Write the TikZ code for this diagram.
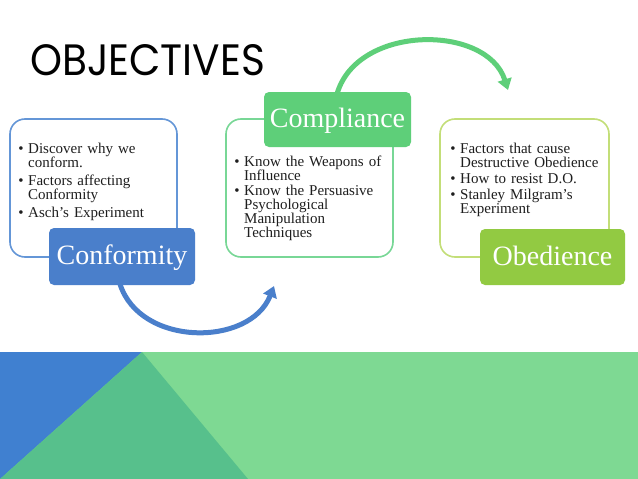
\documentclass[tikz,border=0pt]{standalone}
\usepackage{fontspec}
\setmainfont{Liberation Serif}
\newfontfamily\titlefont{Poppins}
\usetikzlibrary{arrows.meta}
\definecolor{confblue}{RGB}{74,127,203}
\definecolor{confline}{RGB}{100,150,215}
\definecolor{compgreen}{RGB}{94,207,121}
\definecolor{compline}{RGB}{120,215,150}
\definecolor{obgreen}{RGB}{146,202,66}
\definecolor{obline}{RGB}{195,222,120}
\definecolor{bandblue}{RGB}{64,128,208}
\definecolor{banddark}{RGB}{87,192,140}
\definecolor{bandlight}{RGB}{126,217,147}
\definecolor{bodytext}{RGB}{30,30,30}
\newenvironment{blist}[1]{\begin{list}{\textbullet}{\setlength{\leftmargin}{10pt}\setlength{\labelsep}{4.5pt}\setlength{\labelwidth}{5.5pt}\setlength{\topsep}{0pt}\setlength{\partopsep}{0pt}\setlength{\parsep}{0pt}\setlength{\itemsep}{#1}}}{\end{list}}
\begin{document}
\begin{tikzpicture}[x=1pt,y=-1pt,
  obox/.style={draw=#1,line width=1.6pt,rounded corners=15pt,inner sep=0pt},
  lbox/.style={fill=#1,draw=none,rounded corners=5pt,inner sep=0pt,text=white,
    font=\fontsize{28}{30}\selectfont,text height=16pt,text depth=0pt},
  btext/.style={anchor=north west,inner sep=0pt,text width=200pt,text=bodytext,
    font=\fontsize{15}{14}\selectfont,align=left},
  arr/.style={line width=5pt,draw=#1,-{Triangle[width=14pt,length=11pt]}}
]
\useasboundingbox (0,0) rectangle (638,479);
\fill[white] (0,0) rectangle (638,479);
% bottom band
\fill[bandlight] (0,352) rectangle (638,479);
\fill[bandblue] (0,352) -- (142,352) -- (0,479) -- cycle;
\fill[banddark] (142,352) -- (248,479) -- (0,479) -- cycle;
% title
\node[anchor=base west,inner sep=0pt] (title) at (30,75) {\resizebox{235pt}{31pt}{\titlefont OBJECTIVES}};
% outline boxes
\node[obox=confline,minimum width=167pt,minimum height=138pt] (b1) at (93.5,188) {};
\node[obox=compline,minimum width=167pt,minimum height=138pt] (b2) at (309.5,188) {};
\node[obox=obline,minimum width=169pt,minimum height=138pt] (b3) at (524.5,188) {};
% body texts
\node[btext] (t1) at (18,139.5) {\begin{blist}{4pt}
\item Discover why we\\conform.
\item Factors affecting\\Conformity
\item Asch’s Experiment
\end{blist}};
\node[btext] (t2) at (234,152) {\begin{blist}{1.5pt}
\item Know the Weapons of\\Influence
\item Know the Persuasive\\Psychological\\Manipulation\\Techniques
\end{blist}};
\node[btext] (t3) at (450,139.5) {\begin{blist}{2pt}
\item Factors that cause\\Destructive Obedience
\item How to resist D.O.
\item Stanley Milgram’s\\Experiment
\end{blist}};
% arrows
\coordinate (a1s) at (120,284);
\coordinate (a1e) at (274,286);
\coordinate (a2s) at (337,94);
\coordinate (a2e) at (508,90);
\draw[arr=confblue] (a1s) .. controls (140,347) and (250,347) .. (a1e);
\draw[arr=compgreen] (a2s) .. controls (357,24) and (487,24) .. (a2e);
% labels
\node[lbox=confblue,minimum width=146pt,minimum height=57pt] (l1) at (122,256.5) {Conformity};
\node[lbox=compgreen,minimum width=147pt,minimum height=55pt] (l2) at (337.5,119.5) {Compliance};
\node[lbox=obgreen,minimum width=145pt,minimum height=56pt] (l3) at (552.5,257) {Obedience};
\end{tikzpicture}
\end{document}
